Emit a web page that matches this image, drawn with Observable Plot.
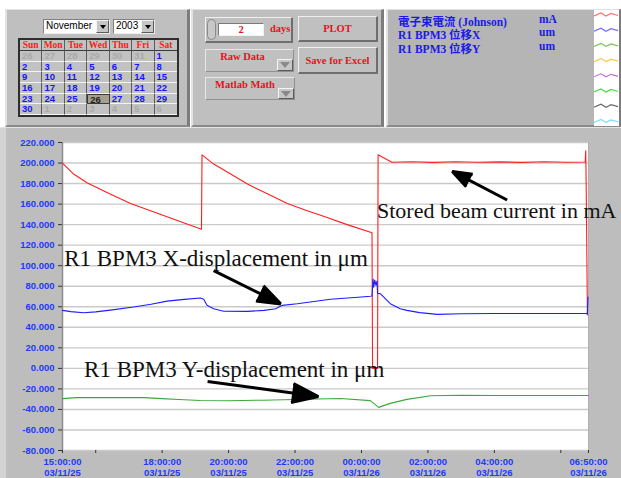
<!DOCTYPE html>
<html><head><meta charset="utf-8">
<script src="https://cdn.jsdelivr.net/npm/d3@7"></script>
<script src="https://cdn.jsdelivr.net/npm/@observablehq/plot@0.6"></script>
<style>
html,body{margin:0;padding:0;background:#fff;}
#page{position:relative;width:621px;height:478px;overflow:hidden;background:#fff;font-family:"Liberation Serif",serif;}
.abs{position:absolute;box-sizing:border-box;}
.panel{background:#bfbfbf;border-top:1px solid #e2e2e2;border-left:2px solid #e2e2e2;border-right:3px solid #7c7c7c;border-bottom:2px solid #8a8a8a;}
.raised{background:#c0c0c0;border-top:1px solid #f0f0f0;border-left:1px solid #f0f0f0;border-right:2px solid #6e6e6e;border-bottom:2px solid #6e6e6e;}
.flat{background:#c0c0c0;border-top:1px solid #e8e8e8;border-left:1px solid #e8e8e8;border-right:1px solid #909090;border-bottom:1px solid #909090;}
.inset{background:#fff;border-top:1px solid #7a7a7a;border-left:1px solid #7a7a7a;border-right:1px solid #f2f2f2;border-bottom:1px solid #f2f2f2;}
.red{color:#e8101c;font-weight:bold;font-size:10.5px;font-family:"Liberation Serif",serif;white-space:nowrap;}
.btntxt{display:flex;align-items:center;justify-content:center;}
.ddbtn{background:#c6c6c6;border-top:1px solid #f4f4f4;border-left:1px solid #f4f4f4;border-right:1px solid #5a5a5a;border-bottom:1px solid #5a5a5a;}
.tri{position:absolute;left:50%;top:50%;width:0;height:0;margin-left:-3px;margin-top:-2px;border-left:3.5px solid transparent;border-right:3.5px solid transparent;border-top:4px solid #000;}
.tri2{position:absolute;left:50%;top:50%;width:0;height:0;margin-left:-5px;margin-top:-3px;border-left:5px solid transparent;border-right:5px solid transparent;border-top:6px solid #8a8a8a;}
#cal{display:grid;grid-template-columns:repeat(7,1fr);grid-template-rows:11px repeat(6,1fr);background:#c2c2c2;border:2px solid #2e2e2e;}
#cal div{box-sizing:border-box;border-right:1px solid #5c5c5c;border-bottom:1px solid #f4f4f4;font-weight:bold;font-size:9.5px;line-height:10px;overflow:hidden;white-space:nowrap;}
#cal div.ch{color:#ff1a1a;text-align:center;border-bottom:1px solid #3a3a3a;}
#cal div.cd{color:#1414ff;padding-left:2px;font-family:"Liberation Sans",sans-serif;}
#cal div.other{color:#a9a9a9;}
#cal div.sel{background:#a59f8c;color:#222;border:1px solid #3a3a3a;}
#cal div.last{border-right:none;}
.leg{color:#1a1ae6;font-weight:bold;font-size:11.5px;white-space:nowrap;font-family:"Liberation Serif","Noto Sans CJK TC",serif;}
.dd{background:#fff;font-family:"Liberation Sans",sans-serif;font-size:10px;border-top:1px solid #808080;border-left:1px solid #808080;border-right:1px solid #eee;border-bottom:1px solid #eee;padding-left:2px;line-height:12px;}
</style></head>
<body>
<div id="page">
  <!-- top panels -->
  <div class="abs panel" style="left:5px;top:9px;width:185px;height:118px;"></div>
  <div class="abs panel" style="left:191px;top:9px;width:193px;height:118px;"></div>
  <div class="abs panel" style="left:386px;top:9px;width:235px;height:118px;background:#b5b5b5;"></div>

  <!-- calendar -->
  <div class="abs dd" style="left:43px;top:19px;width:67px;height:15px;">November</div>
  <div class="abs ddbtn" style="left:96px;top:20px;width:13px;height:13px;"><div class="tri"></div></div>
  <div class="abs dd" style="left:113px;top:19px;width:42px;height:15px;">2003</div>
  <div class="abs ddbtn" style="left:141px;top:20px;width:13px;height:13px;"><div class="tri"></div></div>
  <div id="cal" class="abs" style="left:18px;top:38px;width:161px;height:79px;"></div>

  <!-- controls -->
  <div class="abs raised" style="left:205px;top:17px;width:88px;height:26px;"></div>
  <div class="abs" style="left:207px;top:19px;width:9px;height:21px;border:1px solid #8a8a8a;border-radius:5px;background:#c8c8c8;"></div>
  <div class="abs inset red btntxt" style="left:218px;top:23px;width:46px;height:13px;">2</div>
  <div class="abs red" style="left:270px;top:23px;">days</div>
  <div class="abs raised red btntxt" style="left:298px;top:16px;width:80px;height:26px;">PLOT</div>
  <div class="abs flat red" style="left:205px;top:49px;width:89px;height:23px;text-align:center;padding-right:14px;line-height:14px;">Raw Data</div>
  <div class="abs ddbtn" style="left:277px;top:59px;width:16px;height:12px;"><div class="tri2"></div></div>
  <div class="abs raised red btntxt" style="left:298px;top:47px;width:80px;height:27px;">Save for Excel</div>
  <div class="abs flat red" style="left:205px;top:77px;width:90px;height:23px;text-align:center;padding-right:10px;line-height:14px;">Matlab Math</div>
  <div class="abs ddbtn" style="left:278px;top:88px;width:16px;height:11px;"><div class="tri2"></div></div>

  <!-- legend -->
  <div id="legend"></div>
  <div class="abs" style="left:594px;top:10px;width:25px;height:116px;background:#fff;"><svg id="zig" width="25" height="116"></svg></div>

  <!-- chart -->
  <div class="abs" style="left:0;top:127px;width:621px;height:351px;background:#bdbdbd;border-top:1px solid #e4e4e4;"></div>
  <div class="abs" style="left:0;top:128px;width:6px;height:350px;background:#d3d3d3;"></div>
  <div id="chart" class="abs" style="left:0;top:130px;"></div>
</div>
<script>
// ---------- calendar ----------
const calendarWeekdays = ["Sun","Mon","Tue","Wed","Thu","Fri","Sat"];
const calendarDays = [26,27,28,29,30,31,1, 2,3,4,5,6,7,8, 9,10,11,12,13,14,15, 16,17,18,19,20,21,22, 23,24,25,26,27,28,29, 30,1,2,3,4,5,6];
const calendarSelected = 26;

// ---------- legend ----------
const legendNames = ["電子束電流 (Johnson)", "R1 BPM3 位移X", "R1 BPM3 位移Y"];
const legendUnits = ["mA", "um", "um"];
const zigColors = ["#ff7070", "#6f6fff", "#7cc455", "#ffc84a", "#c070e0", "#44dd44", "#6a6a6a", "#7fdcff"];

// ---------- chart data ----------
const beamTime = ["2003-11-25T15:00","2003-11-25T15:20","2003-11-25T15:45","2003-11-25T16:27","2003-11-25T17:03","2003-11-25T17:39","2003-11-25T18:15","2003-11-25T18:51","2003-11-25T19:11",
  "2003-11-25T19:12","2003-11-25T19:33","2003-11-25T20:03","2003-11-25T20:34","2003-11-25T21:10","2003-11-25T21:46","2003-11-25T22:22","2003-11-25T22:58","2003-11-25T23:34","2003-11-26T00:19",
  "2003-11-26T00:20","2003-11-26T00:29","2003-11-26T00:30","2003-11-26T00:55","2003-11-26T01:30","2003-11-26T02:10","2003-11-26T02:50","2003-11-26T03:30","2003-11-26T04:10","2003-11-26T04:50","2003-11-26T05:30","2003-11-26T06:10","2003-11-26T06:44",
  "2003-11-26T06:45","2003-11-26T06:46","2003-11-26T06:48"];
const beamValue = [200,189.3,180.5,169.5,160.5,153.5,146.5,139.5,135.5,
  208,199,189.5,179.5,170,160.5,153.5,147,140,132,
  0,0,208,200.8,201.2,200.6,201.3,200.7,201.1,200.6,201.2,200.8,201,
  212,170,52];

const xDispTime = ["2003-11-25T15:00","2003-11-25T15:15","2003-11-25T15:38","2003-11-25T16:00","2003-11-25T16:30","2003-11-25T17:08","2003-11-25T17:40","2003-11-25T18:09","2003-11-25T18:40","2003-11-25T19:09",
  "2003-11-25T19:15","2003-11-25T19:21","2003-11-25T19:33","2003-11-25T19:51","2003-11-25T20:34","2003-11-25T21:04","2003-11-25T21:25","2003-11-25T21:37","2003-11-25T22:04","2003-11-25T23:04","2003-11-26T00:00","2003-11-26T00:16","2003-11-26T00:19",
  "2003-11-26T00:20","2003-11-26T00:21","2003-11-26T00:22","2003-11-26T00:24","2003-11-26T00:26","2003-11-26T00:28","2003-11-26T00:29","2003-11-26T00:34","2003-11-26T00:52","2003-11-26T01:10","2003-11-26T01:22","2003-11-26T01:45","2003-11-26T02:17","2003-11-26T03:00","2003-11-26T04:00","2003-11-26T05:00","2003-11-26T06:00","2003-11-26T06:46","2003-11-26T06:48","2003-11-26T06:49"];
const xDispValue = [56.5,55.3,54.2,55,57,59.7,62.5,65.5,67.2,68.5,
  67.3,61.4,58,55.7,55.5,56.5,58,61.4,63,67.3,69.5,70.2,70.5,
  80,87,79,86,81,85,73,72.7,63,58,56.5,54.3,52.6,53.2,53.5,53.4,53.4,53.4,53,69.5];

const yDispTime = ["2003-11-25T15:00","2003-11-25T15:25","2003-11-25T17:27","2003-11-25T18:00","2003-11-25T18:30","2003-11-25T19:09","2003-11-25T20:00","2003-11-25T21:00","2003-11-25T22:00","2003-11-25T23:22",
  "2003-11-26T00:16","2003-11-26T00:31","2003-11-26T00:52","2003-11-26T01:22","2003-11-26T02:05","2003-11-26T03:00","2003-11-26T04:00","2003-11-26T06:50"];
const yDispValue = [-29.5,-28.5,-28.5,-29.5,-30.3,-31.3,-31.5,-31,-30.3,-29.3,
  -31.4,-38,-34.1,-30.2,-26.6,-26.2,-26.5,-26.5];

const yTicks = [-80,-60,-40,-20,0,20,40,60,80,100,120,140,160,180,200,220];
const xLabelTicks = ["2003-11-25T15:00","2003-11-25T18:00","2003-11-25T20:00","2003-11-25T22:00","2003-11-26T00:00","2003-11-26T02:00","2003-11-26T04:00","2003-11-26T06:50"];
const xMinorTicks = ["2003-11-25T16:00","2003-11-26T06:00"];
const xDomain = ["2003-11-25T15:00","2003-11-26T06:50"];

const annotationText = ["Stored beam current in mA","R1 BPM3 X-displacement in μm","R1 BPM3 Y-displacement in μm"];
const annotationTime = ["2003-11-26T00:28","2003-11-25T15:03","2003-11-25T15:39"];
const annotationValue = [146.5,100,-8];

const arrowFromTime = ["2003-11-26T04:23","2003-11-25T19:33","2003-11-25T19:22"];
const arrowFromValue = [164,95.2,-12.7];
const arrowToTime = ["2003-11-26T02:44","2003-11-25T21:34","2003-11-25T22:42"];
const arrowToValue = [191.8,62.8,-27.4];

// ---------- build calendar ----------
const cal = document.getElementById("cal");
calendarWeekdays.forEach((w, i) => {
  const d = document.createElement("div");
  d.className = "ch" + (i === 6 ? " last" : "");
  d.textContent = w; cal.append(d);
});
calendarDays.forEach((n, i) => {
  const d = document.createElement("div");
  const other = (i < 7 && n > 7) || (i >= 35 && n < 7);
  d.className = "cd" + (other ? " other" : "") + (!other && n === calendarSelected ? " sel" : "") + (i % 7 === 6 ? " last" : "");
  d.textContent = n; cal.append(d);
});

// ---------- build legend ----------
const legend = document.getElementById("legend");
legendNames.forEach((name, i) => {
  const a = document.createElement("div");
  a.className = "abs leg"; a.style.left = "398px"; a.style.top = (13 + i * 13.3) + "px";
  a.textContent = name; legend.append(a);
  const b = document.createElement("div");
  b.className = "abs leg"; b.style.left = "539px"; b.style.top = (13 + i * 13.3) + "px";
  b.textContent = legendUnits[i]; legend.append(b);
});
const zig = d3.select("#zig");
zigColors.forEach((c, i) => {
  const y0 = 3 + i * 15.2;
  zig.append("polyline")
    .attr("points", [[0, 3], [7, 0], [12, 3], [17, 0.5], [24, 2.5]].map(([x, y]) => `${x},${y + y0}`).join(" "))
    .attr("fill", "none").attr("stroke", c).attr("stroke-width", 1.2);
});

// ---------- chart ----------
const T = s => new Date(s + "Z");
const rows = (ts, vs) => ts.map((t, i) => ({t: T(t), v: vs[i]}));
const beam = rows(beamTime, beamValue);
const xDisp = rows(xDispTime, xDispValue);
const yDisp = rows(yDispTime, yDispValue);
const annotations = annotationText.map((s, i) => ({t: T(annotationTime[i]), v: annotationValue[i], s}));
const arrows = arrowFromTime.map((s, i) => ({t1: T(s), v1: arrowFromValue[i], t2: T(arrowToTime[i]), v2: arrowToValue[i]}));

const blue = "#2038ff";
const fmtX = d3.utcFormat("%H:%M:%S\n%y/%m/%d");
const annText = (data, size) => Plot.text(data, {x: "t", y: "v", text: "s", textAnchor: "start", lineAnchor: "bottom",
  fontSize: size, fontFamily: "Liberation Serif", fill: "#111", ariaLabel: "annotation"});
const svg = Plot.plot({
  width: 621, height: 348,
  marginLeft: 62, marginRight: 33, marginTop: 12, marginBottom: 28,
  x: {type: "utc", domain: xDomain.map(T), axis: null, label: null},
  y: {domain: [-80, 220], axis: null, label: null},
  style: {background: "transparent", overflow: "visible"},
  marks: [
    Plot.frame({fill: "white", stroke: "#b0b0b0"}),
    Plot.gridY(yTicks, {stroke: "#cacaca", strokeOpacity: 1, strokeWidth: 1.4}),
    Plot.ruleX([T(xDomain[0])], {stroke: "#8c8c8c", strokeWidth: 1.5}),
    Plot.axisY({ticks: yTicks, tickFormat: d => d.toFixed(3), tickSize: 4, tickPadding: 4, label: null,
      fill: blue, stroke: "#333", fontSize: 9.5, fontWeight: "bold", fontFamily: "Liberation Sans"}),
    Plot.axisX({ticks: xMinorTicks.map(T), tickFormat: () => "", tickSize: 3, label: null, stroke: "#333"}),
    Plot.axisX({ticks: xLabelTicks.map(T), tickFormat: fmtX, tickSize: 3, tickPadding: 4, label: null,
      fill: blue, stroke: "#333", fontSize: 9.5, fontWeight: "bold", fontFamily: "Liberation Sans", lineHeight: 1.15}),
    Plot.lineY(beam, {x: "t", y: "v", stroke: "#ff1e1e", strokeWidth: 1.1}),
    Plot.lineY(xDisp, {x: "t", y: "v", stroke: "#1e1eff", strokeWidth: 1.1}),
    Plot.lineY(yDisp, {x: "t", y: "v", stroke: "#3ca83c", strokeWidth: 1.1}),
    annText(annotations.slice(0, 1), 22),
    annText(annotations.slice(1), 23),
    Plot.arrow(arrows, {x1: "t1", y1: "v1", x2: "t2", y2: "v2", stroke: "black", fill: "black",
      strokeWidth: 3, headLength: 14, headAngle: 40, strokeLinejoin: "miter", strokeLinecap: "butt"})
  ]
});
document.getElementById("chart").append(svg);

// white boxes behind annotation text, italic mu
const NS = "http://www.w3.org/2000/svg";
svg.querySelectorAll('g[aria-label="annotation"] text').forEach(tx => {
  const s = tx.textContent;
  const k = s.indexOf("μ");
  if (k >= 0) {
    tx.textContent = "";
    const parts = [s.slice(0, k), "μ", s.slice(k + 1)];
    parts.forEach((p, j) => {
      const ts = document.createElementNS(NS, "tspan");
      ts.textContent = p;
      if (j === 1) ts.setAttribute("font-style", "italic");
      tx.append(ts);
    });
  }
  const bb = tx.getBBox();
  const r = document.createElementNS(NS, "rect");
  r.setAttribute("x", bb.x - 2); r.setAttribute("y", bb.y);
  r.setAttribute("width", bb.width + 4); r.setAttribute("height", bb.height);
  r.setAttribute("fill", "white");
  if (tx.getAttribute("transform")) r.setAttribute("transform", tx.getAttribute("transform"));
  tx.parentNode.insertBefore(r, tx);
});
</script>
</body></html>
